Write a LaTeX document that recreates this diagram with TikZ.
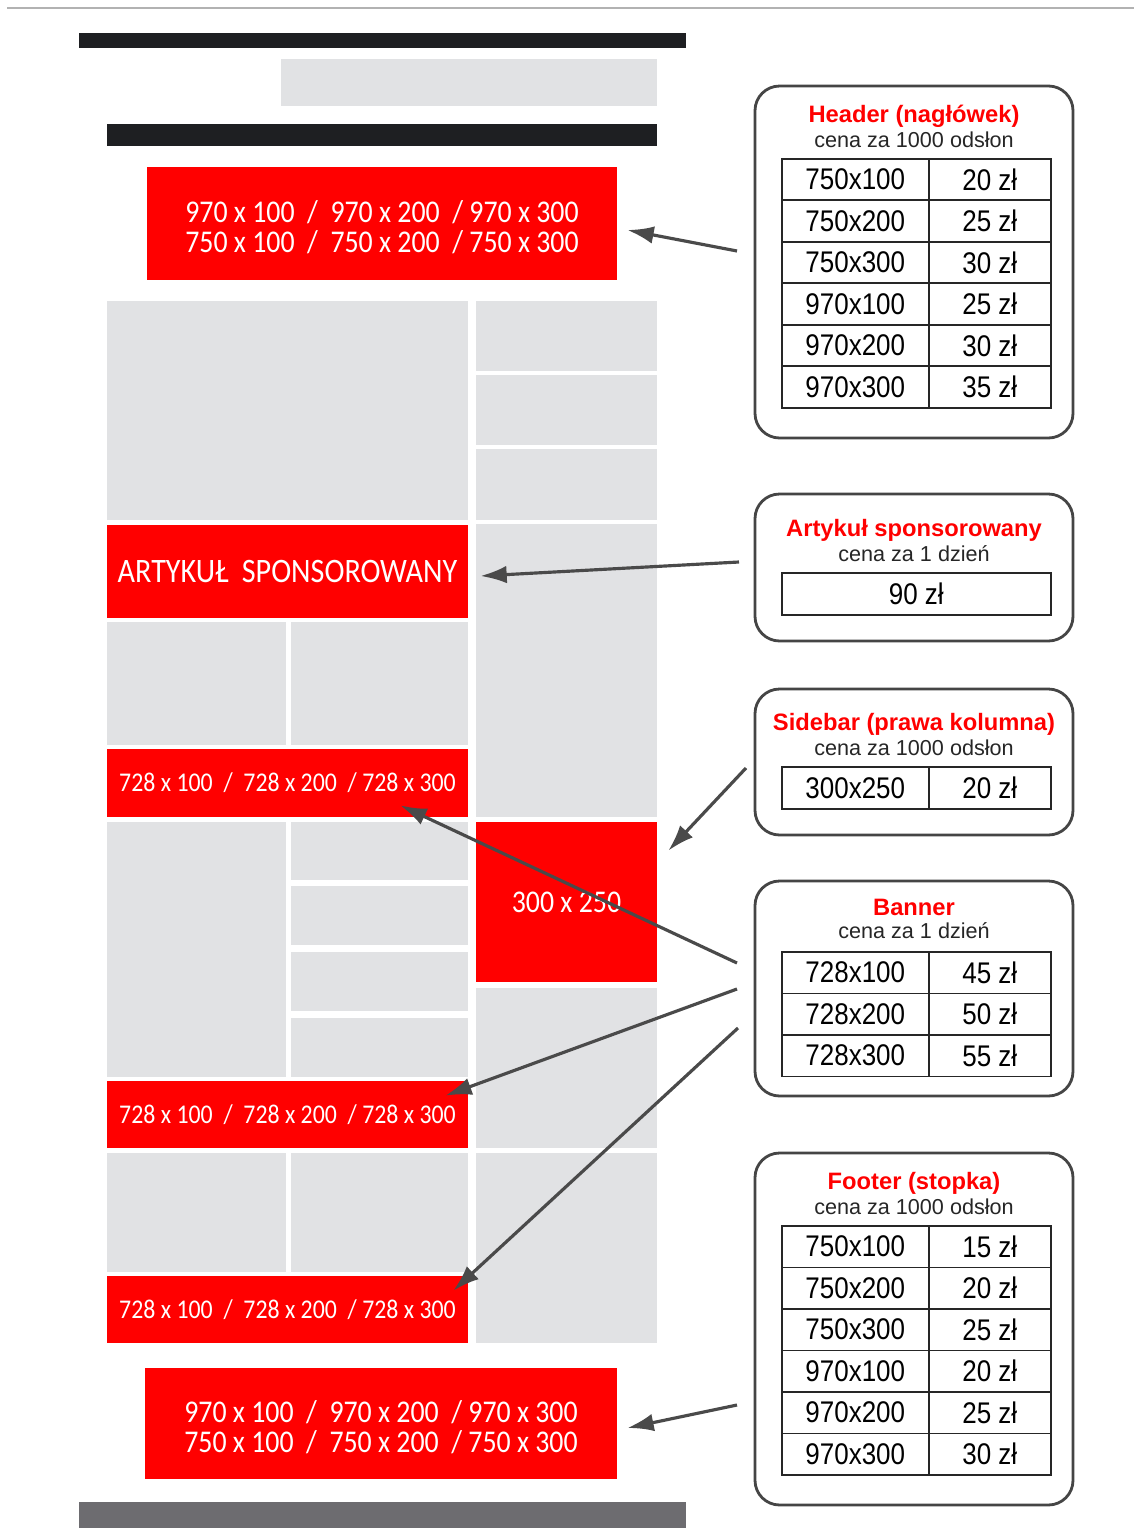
\documentclass[tikz,border=0pt]{standalone}
\usepackage{fontspec}
\setmainfont{Liberation Sans}
\newfontfamily\banfont{Carlito}[FakeStretch=0.88]
\newfontfamily\cellfont{Liberation Sans}[FakeStretch=0.87]
\usetikzlibrary{arrows.meta,fit}
\definecolor{adred}{HTML}{FF0000}
\definecolor{slot}{HTML}{E1E2E4}
\definecolor{barblack}{HTML}{1E1F22}
\definecolor{bargrey}{HTML}{6D6C70}
\definecolor{arrgrey}{HTML}{4A4A4A}
\definecolor{frame}{HTML}{454545}
\tikzset{
	slotblk/.style = {fill=slot},
	adban/.style = {fill=adred, inner sep=0},
	bigtxt/.style = {text=white, align=center, inner sep=0, font=\banfont\fontsize{18}{17}\selectfont},
	smalltxt/.style = {bigtxt, font=\banfont\fontsize{15.4}{17}\selectfont},
	pricebox/.style = {draw=frame, line width=1.6pt, rounded corners=14pt, inner sep=0},
	ttl/.style = {text=adred, font=\bfseries\fontsize{13.5}{16}\selectfont},
	subttl/.style = {text=black!85, font=\fontsize{12.3}{14}\selectfont},
	cellA/.style = {draw=black!85, line width=0.9pt, anchor=north west, minimum width=2.94cm, minimum height=0.83cm, inner sep=0, font=\cellfont\fontsize{17}{20}\selectfont},
	cellB/.style = {cellA, minimum width=2.44cm},
	pointer/.style = {draw=arrgrey, line width=1.8pt, -{Latex[length=15pt,width=10pt]}}
}
\begin{document}
\begin{tikzpicture}[x=0.02cm, y=-0.02cm]
		\useasboundingbox (0,0) rectangle (1134,1528);
		% page mock-up
		\draw[black!30, line width=1.2pt] (7,8) -- (1134,8);
		\fill[barblack] (79,33) rectangle (686,48);
		\fill[slotblk] (281,59) rectangle (657,106);
		\fill[barblack] (107,124) rectangle (657,146);
		\foreach \xa/\ya/\xb/\yb in {107/301/468/520, 476/301/657/371, 476/375/657/445, 476/449/657/520,
			476/524/657/817, 107/622/286/745, 291/622/468/745, 107/822/286/1077,
			291/822/468/880, 291/886/468/945, 291/952/468/1011, 291/1018/468/1077,
			476/988/657/1148, 107/1153/286/1272, 291/1153/468/1272, 476/1153/657/1343}
			\fill[slotblk] (\xa,\ya) rectangle (\xb,\yb);
		\fill[bargrey] (79,1502) rectangle (686,1528);
		% ad slots
		\node [adban, fit={(147,167) (617,280)}] (hdrban) {};
		\node [bigtxt] (hdrtxt) at ([yshift=-2pt]hdrban.center) {970 x 100\ \ /\ \ 970 x 200\ \ / 970 x 300\\750 x 100\ \ /\ \ 750 x 200\ \ / 750 x 300};
		\node [adban, fit={(107,525) (468,618)}] (artban) {};
		\node [bigtxt, font=\banfont\fontsize{19.5}{17}\selectfont] (arttxt) at (artban.center) {ARTYKUŁ\ \ SPONSOROWANY};
		\node [adban, fit={(107,749) (468,817)}] (banA) {};
		\node [smalltxt] (banAtxt) at (banA.center) {728 x 100\ \ /\ \ 728 x 200\ \ / 728 x 300};
		\node [adban, fit={(476,822) (657,982)}] (sideban) {};
		\node [bigtxt] (sidetxt) at (sideban.center) {300 x 250};
		\node [adban, fit={(107,1081) (468,1148)}] (banB) {};
		\node [smalltxt] (banBtxt) at (banB.center) {728 x 100\ \ /\ \ 728 x 200\ \ / 728 x 300};
		\node [adban, fit={(107,1276) (468,1343)}] (banC) {};
		\node [smalltxt] (banCtxt) at (banC.center) {728 x 100\ \ /\ \ 728 x 200\ \ / 728 x 300};
		\node [adban, fit={(145,1368) (617,1479)}] (footban) {};
		\node [bigtxt] (foottxt) at ([yshift=-2pt]footban.center) {970 x 100\ \ /\ \ 970 x 200\ \ / 970 x 300\\750 x 100\ \ /\ \ 750 x 200\ \ / 750 x 300};
		% price lists
		\node [pricebox, fit={(755,86) (1073,438)}] (hdrbox) {};
		\node [ttl] (hdrttl) at (914,116) {Header (nagłówek)};
		\node [subttl] (hdrsub) at (914,140) {cena za 1000 odsłon};
		\foreach \sz/\pr [count=\i from 0] in {750x100/20 zł, 750x200/25 zł, 750x300/30 zł, 970x100/25 zł, 970x200/30 zł, 970x300/35 zł} {
			\node [cellA] (hdrsz\i) at (781,{158+41.5*\i}) {\sz};
			\node [cellB] (hdrpr\i) at (928,{158+41.5*\i}) {\pr};
		}
		\node [pricebox, fit={(755,494) (1073,641)}] (artbox) {};
		\node [ttl] (artttl) at (914,530) {Artykuł sponsorowany};
		\node [subttl] (artsub) at (914,554) {cena za 1 dzień};
		\node [cellA, minimum width=5.38cm, minimum height=0.84cm] (artpr) at (781,572) {90 zł};
		\node [pricebox, fit={(755,689) (1073,835)}] (sidebox) {};
		\node [ttl] (sidettl) at (914,724) {Sidebar (prawa kolumna)};
		\node [subttl] (sidesub) at (914,748) {cena za 1000 odsłon};
		\node [cellA, minimum height=0.84cm] (sidesz) at (781,766) {300x250};
		\node [cellB, minimum height=0.84cm] (sidepr) at (928,766) {20 zł};
		\node [pricebox, fit={(755,881) (1073,1096)}] (banbox) {};
		\node [ttl] (banttl) at (914,907) {Banner};
		\node [subttl] (bansub) at (914,931) {cena za 1 dzień};
		\foreach \sz/\pr [count=\i from 0] in {728x100/45 zł, 728x200/50 zł, 728x300/55 zł} {
			\node [cellA] (bansz\i) at (781,{951+41.5*\i}) {\sz};
			\node [cellB] (banpr\i) at (928,{951+41.5*\i}) {\pr};
		}
		\node [pricebox, fit={(755,1153) (1073,1505)}] (footbox) {};
		\node [ttl] (footttl) at (914,1183) {Footer (stopka)};
		\node [subttl] (footsub) at (914,1207) {cena za 1000 odsłon};
		\foreach \sz/\pr [count=\i from 0] in {750x100/15 zł, 750x200/20 zł, 750x300/25 zł, 970x100/20 zł, 970x200/25 zł, 970x300/30 zł} {
			\node [cellA] (footsz\i) at (781,{1225+41.5*\i}) {\sz};
			\node [cellB] (footpr\i) at (928,{1225+41.5*\i}) {\pr};
		}
		% pointers
		\coordinate (hdrtail) at (737,251);
		\coordinate (arttail) at (739,562);
		\coordinate (sidetail) at (746,768);
		\coordinate (bantailA) at (737,963);
		\coordinate (bantailB) at (737,989);
		\coordinate (bantailC) at (738,1028);
		\coordinate (foottail) at (737,1405);
		\draw [pointer] (hdrtail) -- ([shift={(10,6.5)}]hdrban.east);
		\draw [pointer] (arttail) -- ([shift={(12,4.5)}]artban.east);
		\draw [pointer] (sidetail) -- ([shift={(11,29)}]sideban.north east);
		\draw [pointer] (bantailA) -- ([shift={(-68,-12)}]banA.south east);
		\draw [pointer] (bantailB) -- ([shift={(-23,15)}]banB.north east);
		\draw [pointer] (bantailC) -- ([shift={(-15,15)}]banC.north east);
		\draw [pointer] (foottail) -- ([shift={(10,4.5)}]footban.east);
\end{tikzpicture}
\end{document}
